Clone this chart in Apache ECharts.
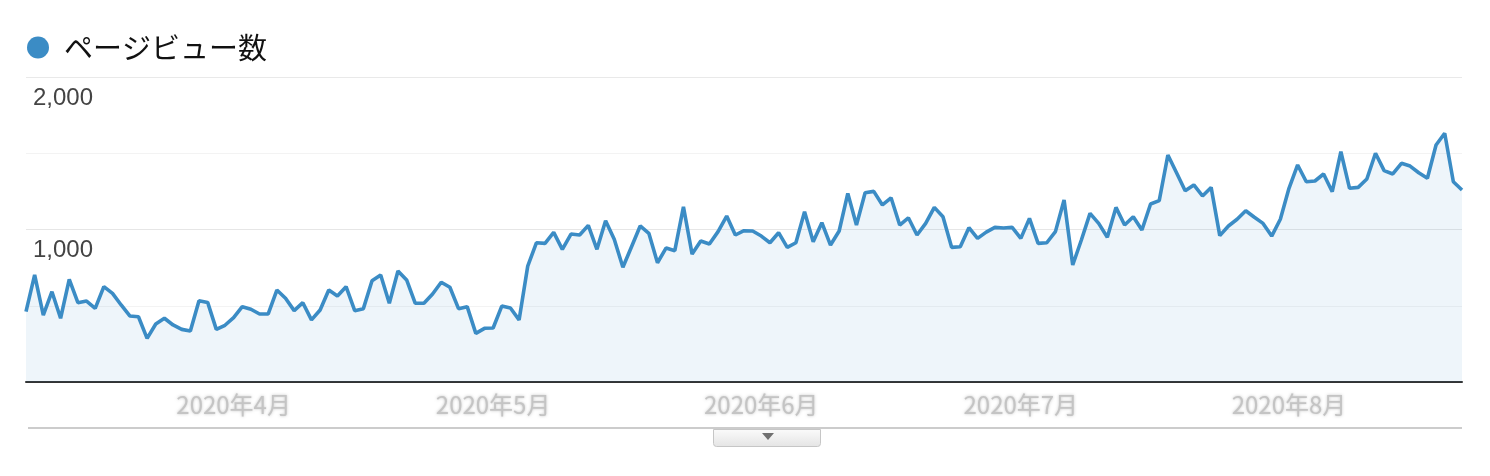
<!DOCTYPE html>
<html>
<head>
<meta charset="utf-8">
<script src="https://cdn.jsdelivr.net/npm/echarts@6/dist/echarts.min.js"></script>
<style>
html,body{margin:0;padding:0;background:#fff;}
#chart{width:1490px;height:476px;}
</style>
</head>
<body>
<div id="chart"></div>
<script>
// ---- data ----
const seriesName = 'ページビュー数';
const startDate = '2020-03-08';
const pageViews = [
  461, 702, 439, 592, 418, 673, 520, 531, 483, 625,
  581, 505, 433, 428, 286, 380, 418, 374, 345, 334,
  533, 522, 345, 372, 422, 494, 477, 446, 446, 603,
  549, 468, 520, 407, 472, 603, 564, 625, 468, 481,
  664, 702, 516, 728, 669, 516, 516, 577, 654, 621,
  481, 494, 319, 352, 354, 498, 485, 407, 760, 913,
  909, 981, 870, 970, 964, 1027, 870, 1058, 936, 752,
  887, 1023, 975, 782, 879, 861, 1149, 839, 925, 905,
  986, 1088, 964, 992, 990, 957, 913, 979, 883, 913,
  1117, 920, 1045, 898, 990, 1237, 1029, 1241, 1250, 1161,
  1208, 1029, 1077, 964, 1040, 1145, 1084, 883, 887, 1012,
  942, 983, 1014, 1010, 1014, 942, 1073, 909, 913, 986,
  1193, 767, 931, 1106, 1040, 949, 1145, 1029, 1084, 997,
  1167, 1189, 1488, 1372, 1254, 1292, 1220, 1276, 960, 1023,
  1067, 1123, 1080, 1040, 957, 1067, 1270, 1423, 1313, 1318,
  1364, 1248, 1510, 1270, 1276, 1331, 1500, 1386, 1364, 1434,
  1416, 1372, 1336, 1554, 1631, 1313, 1259
];
const yLabelValues = [1000, 2000];
const yLabelTexts = ['1,000', '2,000'];

// categories: consecutive days from startDate
const categories = [];
(function () {
  const d = new Date(startDate + 'T00:00:00Z');
  for (let i = 0; i < pageViews.length; i++) {
    const y = d.getUTCFullYear();
    const m = String(d.getUTCMonth() + 1).padStart(2, '0');
    const dd = String(d.getUTCDate()).padStart(2, '0');
    categories.push(y + '-' + m + '-' + dd);
    d.setUTCDate(d.getUTCDate() + 1);
  }
})();

const chart = echarts.init(document.getElementById('chart'), null, {renderer: 'canvas'});
const numFont = '"Liberation Sans", Arial, Helvetica, sans-serif';
const jpFont = '"Noto Sans CJK JP", "Liberation Sans", sans-serif';

chart.setOption({
  animation: false,
  backgroundColor: '#fff',
  legend: {
    left: 22,
    top: 28,
    icon: 'circle',
    itemWidth: 22,
    itemHeight: 22,
    selectedMode: false,
    data: [seriesName],
    textStyle: {
      fontFamily: jpFont,
      fontSize: 29,
      color: '#111',
      padding: [0, 0, 0, 10]
    }
  },
  grid: {
    left: 26,
    right: 28,
    top: 77,
    bottom: 94,
    containLabel: false
  },
  xAxis: {
    type: 'category',
    boundaryGap: false,
    data: categories,
    axisLine: {show: true, lineStyle: {color: '#333', width: 2}},
    axisTick: {show: false},
    splitLine: {show: false},
    axisLabel: {
      interval: function (idx, val) { return val.slice(8) === '01'; },
      formatter: function (val) {
        const p = val.split('-');
        return p[0] + '年' + parseInt(p[1], 10) + '月';
      },
      margin: 11,
      fontSize: 24,
      fontFamily: jpFont,
      color: '#c4c4c4',
      textShadowColor: '#c4c4c4',
      textShadowBlur: 3
    }
  },
  yAxis: {
    type: 'value',
    min: 0,
    max: 2000,
    interval: 500,
    axisLine: {show: false},
    axisTick: {show: false},
    axisLabel: {
      inside: true,
      margin: 7,
      verticalAlign: 'top',
      padding: [9, 0, 0, 0],
      fontSize: 24,
      fontFamily: numFont,
      color: '#444',
      formatter: function (v) {
        const k = yLabelValues.indexOf(v);
        return k >= 0 ? yLabelTexts[k] : '';
      }
    },
    splitLine: {
      show: true,
      lineStyle: {
        width: 1,
        color: ['#333', '#f3f3f3', '#e6e6e6', '#f3f3f3', '#e9e9e9']
      }
    }
  },
  series: [{
    name: seriesName,
    type: 'line',
    data: pageViews,
    showSymbol: false,
    symbol: 'none',
    color: '#3b8cc5',
    lineStyle: {color: '#3b8cc5', width: 3.6},
    areaStyle: {color: 'rgba(58,140,197,0.12)', origin: 'start'},
    z: 3
  }],
  graphic: [
    {
      type: 'line',
      shape: {x1: 28, y1: 428, x2: 1462, y2: 428},
      style: {stroke: '#cccccc', lineWidth: 2},
      silent: true
    },
    {
      type: 'rect',
      shape: {x: 713.5, y: 429.5, width: 107, height: 17, r: [0, 0, 3, 3]},
      style: {
        fill: new echarts.graphic.LinearGradient(0, 0, 0, 1, [
          {offset: 0, color: '#fbfbfb'},
          {offset: 1, color: '#e4e4e4'}
        ]),
        stroke: '#c6c6c6',
        lineWidth: 1
      },
      silent: true
    },
    {
      type: 'polygon',
      shape: {points: [[762, 433], [774, 433], [768, 440]]},
      style: {fill: '#707070'},
      silent: true
    }
  ]
});
</script>
</body>
</html>
